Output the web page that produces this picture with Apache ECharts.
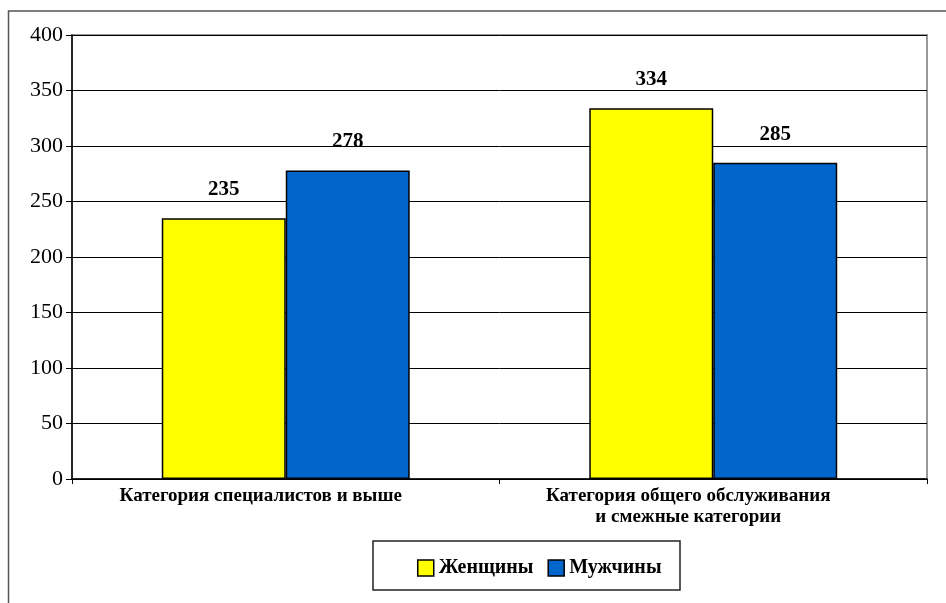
<!DOCTYPE html>
<html><head><meta charset="utf-8">
<script src="https://cdn.jsdelivr.net/npm/echarts@6/dist/echarts.min.js"></script>
<style>html,body{margin:0;padding:0;background:#fff}#c{width:946px;height:603px}</style>
</head><body><div id="c"></div>
<script>
const categories = ['Категория специалистов и выше', 'Категория общего обслуживания\nи смежные категории'];
const women = [235, 334];
const men = [278, 285];
const seriesNames = ['Женщины', 'Мужчины'];
const yTicks = [0, 50, 100, 150, 200, 250, 300, 350, 400];

const chart = echarts.init(document.getElementById('c'));
const font = '"Liberation Serif", "Times New Roman", serif';
const lbl = {show: true, position: 'top', distance: 18, fontFamily: font, fontWeight: 'bold', fontSize: 21, color: '#000'};
chart.setOption({
  animation: false,
  graphic: [
    {type: 'rect', shape: {x: 8.5, y: 11, width: 960, height: 620}, style: {fill: 'none', stroke: '#555', lineWidth: 1.5}, z: -1},
    {type: 'rect', shape: {x: 373, y: 541, width: 307, height: 49}, style: {fill: '#fff', stroke: '#222', lineWidth: 1.5}, z: 0}
  ],
  grid: {left: 72, top: 35, right: 19, bottom: 124, show: true, borderColor: '#999', borderWidth: 2, backgroundColor: 'transparent'},
  legend: {
    data: seriesNames, left: 412, top: 553, itemWidth: 16, itemHeight: 16, itemGap: 14,
    icon: 'rect',
    textStyle: {fontFamily: font, fontWeight: 'bold', fontSize: 20, color: '#000', padding: [4,0,0,0]},
    itemStyle: {borderColor: '#000', borderWidth: 1.5}
  },
  xAxis: {
    type: 'category', data: categories,
    axisLine: {lineStyle: {color: '#000', width: 1.5}},
    axisTick: {show: true, length: 5, lineStyle: {color: '#000'}},
    axisLabel: {fontFamily: font, fontWeight: 'bold', fontSize: 19, color: '#000', margin: 7, lineHeight: 21, interval: 0, padding: [0, 50, 0, 0]}
  },
  yAxis: {
    type: 'value', min: 0, max: 400, interval: 50,
    axisLine: {show: true, lineStyle: {color: '#000', width: 1.5}},
    axisTick: {show: true, length: 6, inside: false, lineStyle: {color: '#000'}},
    axisLabel: {fontFamily: font, fontSize: 22, color: '#000', margin: 9},
    splitLine: {lineStyle: {color: '#000', width: 1}}
  },
  series: [
    {name: seriesNames[0], type: 'bar', data: women, barWidth: '29%', barGap: '0%',
     itemStyle: {color: '#ffff00', borderColor: '#000', borderWidth: 1.5}, label: lbl},
    {name: seriesNames[1], type: 'bar', data: men, barWidth: '29%',
     itemStyle: {color: '#0066cc', borderColor: '#000', borderWidth: 1.5}, label: lbl}
  ]
});
</script></body></html>
